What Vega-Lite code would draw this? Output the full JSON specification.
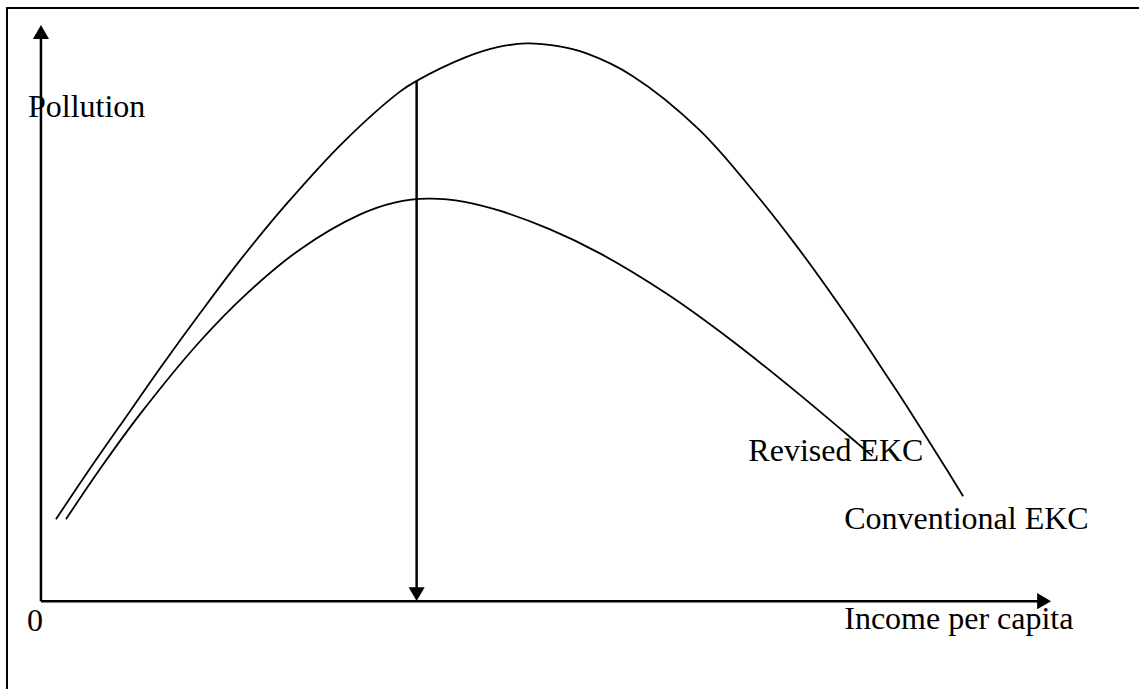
{
  "$schema": "https://vega.github.io/schema/vega-lite/v6.json",
  "width": 1140,
  "height": 690,
  "autosize": {"type": "fit", "contains": "padding"},
  "padding": 0,
  "background": "white",
  "config": {"view": {"stroke": null}},
  "datasets": {
    "curves": [
      {"curve": "Conventional EKC", "income": 15, "pollution": 82},
      {"curve": "Conventional EKC", "income": 52, "pollution": 137},
      {"curve": "Conventional EKC", "income": 89, "pollution": 190},
      {"curve": "Conventional EKC", "income": 119, "pollution": 233},
      {"curve": "Conventional EKC", "income": 159, "pollution": 288},
      {"curve": "Conventional EKC", "income": 199, "pollution": 341},
      {"curve": "Conventional EKC", "income": 246, "pollution": 398},
      {"curve": "Conventional EKC", "income": 302, "pollution": 459},
      {"curve": "Conventional EKC", "income": 359, "pollution": 510},
      {"curve": "Conventional EKC", "income": 376, "pollution": 521},
      {"curve": "Conventional EKC", "income": 426, "pollution": 545},
      {"curve": "Conventional EKC", "income": 456, "pollution": 554.5},
      {"curve": "Conventional EKC", "income": 486, "pollution": 558.5},
      {"curve": "Conventional EKC", "income": 516, "pollution": 556},
      {"curve": "Conventional EKC", "income": 546, "pollution": 548.5},
      {"curve": "Conventional EKC", "income": 592, "pollution": 526},
      {"curve": "Conventional EKC", "income": 659, "pollution": 472},
      {"curve": "Conventional EKC", "income": 716, "pollution": 407},
      {"curve": "Conventional EKC", "income": 759, "pollution": 352},
      {"curve": "Conventional EKC", "income": 809, "pollution": 282},
      {"curve": "Conventional EKC", "income": 847, "pollution": 225},
      {"curve": "Conventional EKC", "income": 859, "pollution": 207},
      {"curve": "Conventional EKC", "income": 907, "pollution": 131},
      {"curve": "Conventional EKC", "income": 923, "pollution": 105},
      {"curve": "Revised EKC", "income": 25, "pollution": 82},
      {"curve": "Revised EKC", "income": 61, "pollution": 135},
      {"curve": "Revised EKC", "income": 99, "pollution": 187},
      {"curve": "Revised EKC", "income": 159, "pollution": 260},
      {"curve": "Revised EKC", "income": 206, "pollution": 308},
      {"curve": "Revised EKC", "income": 259, "pollution": 352},
      {"curve": "Revised EKC", "income": 319, "pollution": 387},
      {"curve": "Revised EKC", "income": 354, "pollution": 399.1},
      {"curve": "Revised EKC", "income": 388, "pollution": 403},
      {"curve": "Revised EKC", "income": 424, "pollution": 399.9},
      {"curve": "Revised EKC", "income": 459, "pollution": 391},
      {"curve": "Revised EKC", "income": 509, "pollution": 372.5},
      {"curve": "Revised EKC", "income": 559, "pollution": 348.5},
      {"curve": "Revised EKC", "income": 626, "pollution": 308},
      {"curve": "Revised EKC", "income": 692, "pollution": 260.5},
      {"curve": "Revised EKC", "income": 759, "pollution": 207},
      {"curve": "Revised EKC", "income": 819, "pollution": 156.5},
      {"curve": "Revised EKC", "income": 832, "pollution": 145.5}
    ],
    "frame": [
      {"income": -34, "pollution": 594, "income_end": -34, "pollution_end": -88},
      {"income": -35, "pollution": 594, "income_end": 1099, "pollution_end": 594}
    ],
    "axes": [
      {"income": 0, "pollution": 0, "income_end": 0, "pollution_end": 566},
      {"income": 0, "pollution": 0, "income_end": 1000, "pollution_end": 0},
      {"income": 376, "pollution": 521, "income_end": 376, "pollution_end": 10}
    ],
    "heads": [
      {"dir": "up", "income": 0, "pollution": 570},
      {"dir": "right", "income": 1004, "pollution": 0},
      {"dir": "down", "income": 376, "pollution": 7}
    ],
    "labels": [
      {"label": "Pollution", "income": -13, "pollution": 485},
      {"label": "0", "income": -14, "pollution": -30},
      {"label": "Income per capita", "income": 804, "pollution": -28},
      {"label": "Revised EKC", "income": 708, "pollution": 140},
      {"label": "Conventional EKC", "income": 804, "pollution": 72}
    ]
  },
  "encoding": {
    "x": {"field": "income", "type": "quantitative", "scale": {"domain": [-41, 1099], "nice": false, "zero": false}, "axis": null},
    "y": {"field": "pollution", "type": "quantitative", "scale": {"domain": [-88, 602], "nice": false, "zero": false}, "axis": null}
  },
  "layer": [
    {
      "data": {"name": "frame"},
      "mark": {"type": "rule", "color": "black", "strokeWidth": 2},
      "encoding": {
        "x2": {"field": "income_end"},
        "y2": {"field": "pollution_end"}
      }
    },
    {
      "data": {"name": "axes"},
      "mark": {"type": "rule", "color": "black", "strokeWidth": 2.5},
      "encoding": {
        "x2": {"field": "income_end"},
        "y2": {"field": "pollution_end"}
      }
    },
    {
      "data": {"name": "heads"},
      "transform": [{"filter": "datum.dir === 'up'"}],
      "mark": {"type": "point", "shape": "triangle-up", "filled": true, "color": "black", "opacity": 1, "size": 260},
      "encoding": {}
    },
    {
      "data": {"name": "heads"},
      "transform": [{"filter": "datum.dir === 'right'"}],
      "mark": {"type": "point", "shape": "triangle-right", "filled": true, "color": "black", "opacity": 1, "size": 260},
      "encoding": {}
    },
    {
      "data": {"name": "heads"},
      "transform": [{"filter": "datum.dir === 'down'"}],
      "mark": {"type": "point", "shape": "triangle-down", "filled": true, "color": "black", "opacity": 1, "size": 260},
      "encoding": {}
    },
    {
      "data": {"name": "curves"},
      "mark": {"type": "line", "color": "black", "strokeWidth": 1.8, "interpolate": "catmull-rom"},
      "encoding": {
        "detail": {"field": "curve", "type": "nominal"}
      }
    },
    {
      "data": {"name": "labels"},
      "mark": {"type": "text", "align": "left", "baseline": "alphabetic", "font": "Liberation Serif", "fontSize": 32, "color": "black"},
      "encoding": {
        "text": {"field": "label", "type": "nominal"}
      }
    }
  ]
}
